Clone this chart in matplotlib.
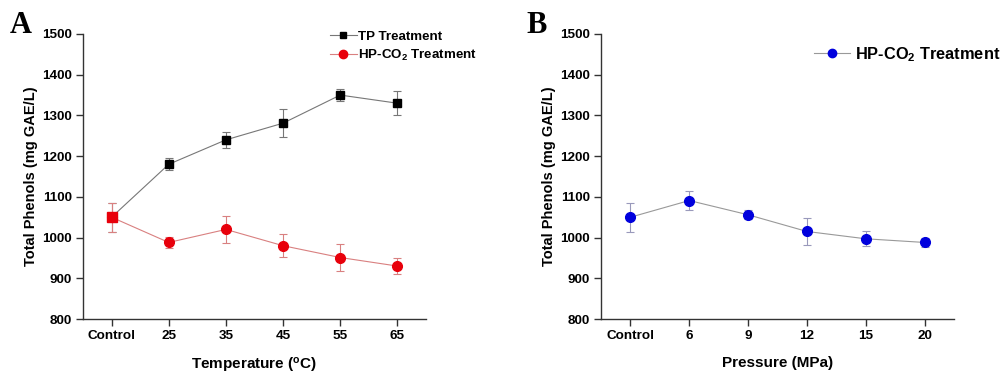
import matplotlib
matplotlib.use("Agg")
import matplotlib.pyplot as plt
from matplotlib.lines import Line2D

plt.rcParams["font.family"] = ["Liberation Sans", "DejaVu Sans"]
plt.rcParams["font.weight"] = "bold"
plt.rcParams["mathtext.fontset"] = "custom"
plt.rcParams["mathtext.rm"] = "Liberation Sans:bold"
plt.rcParams["mathtext.bf"] = "Liberation Sans:bold"
plt.rcParams["mathtext.default"] = "bf"

# panel A: temperature
temp_labels = ["Control", "25", "35", "45", "55", "65"]
tp_mean = [1050, 1180, 1240, 1281, 1350, 1330]
tp_err = [36, 15, 19, 34, 14, 30]
hp_temp_mean = [1050, 988, 1020, 980, 951, 930]
hp_temp_err = [36, 13, 33, 28, 34, 20]

# panel B: pressure
press_labels = ["Control", "6", "9", "12", "15", "20"]
hp_press_mean = [1050, 1091, 1056, 1015, 997, 988]
hp_press_err = [36, 24, 11, 33, 18, 10]

W, H = 1003, 374
fig = plt.figure(figsize=(W / 100, H / 100), dpi=100)
axA = fig.add_axes([83 / W, 55 / H, 343 / W, 285 / H])
axB = fig.add_axes([601 / W, 55 / H, 353 / W, 285 / H])


def style(ax, labels, xlabel):
    ax.set_xlim(-0.5, 5.5)
    ax.set_ylim(800, 1500)
    ax.set_yticks(range(800, 1501, 100))
    ax.set_xticks(range(len(labels)))
    ax.set_xticklabels(labels)
    for s in ["top", "right"]:
        ax.spines[s].set_visible(False)
    for s in ["left", "bottom"]:
        ax.spines[s].set_linewidth(1.0)
        ax.spines[s].set_color("#333333")
    ax.tick_params(direction="out", length=5, width=1, labelsize=9.7, pad=3, color="#333333")
    ax.set_xlabel(xlabel, fontsize=11, fontweight="bold", labelpad=10)
    ax.set_ylabel("Total Phenols (mg GAE/L)", fontsize=10.5, fontweight="bold", labelpad=3)


x = list(range(len(temp_labels)))
axA.errorbar(x, tp_mean, yerr=tp_err, color="#777777", lw=0.8, elinewidth=0.8,
             capsize=3, capthick=0.8, marker="s", ms=6, mfc="black", mec="black", zorder=3)
axA.errorbar(x, hp_temp_mean, yerr=hp_temp_err, color="#D98080", lw=0.8, elinewidth=0.8,
             capsize=3, capthick=0.8, marker="o", ms=7, mfc="#E8000B", mec="#E8000B", zorder=4)
axA.plot(x[0], hp_temp_mean[0], marker="s", ms=7, color="#E8000B", zorder=5, ls="none")
style(axA, temp_labels, "Temperature ($^{o}$C)")
hA = [Line2D([], [], color="#777777", lw=0.8, marker="s", ms=5, mfc="black", mec="black"),
      Line2D([], [], color="#D98080", lw=0.8, marker="o", ms=6, mfc="#E8000B", mec="#E8000B")]
axA.legend(hA, ["TP Treatment", "HP-CO$_2$ Treatment"], loc="upper left",
           bbox_to_anchor=(0.705, 1.03), frameon=False, fontsize=9.6,
           handlelength=2.0, handletextpad=0.1, labelspacing=0.35, borderaxespad=0)

xb = list(range(len(press_labels)))
axB.errorbar(xb, hp_press_mean, yerr=hp_press_err, color="#999999", lw=0.8, elinewidth=0.8,
             ecolor="#9999BB", capsize=3, capthick=0.8, marker="o", ms=7,
             mfc="#0000DD", mec="#0000DD", zorder=3)
style(axB, press_labels, "Pressure (MPa)")
hB = [Line2D([], [], color="#999999", lw=0.8, marker="o", ms=6, mfc="#0000DD", mec="#0000DD")]
axB.legend(hB, ["HP-CO$_2$ Treatment"], loc="upper left", bbox_to_anchor=(0.585, 0.985),
           frameon=False, fontsize=11.8, handlelength=2.2, handletextpad=0.3, borderaxespad=0)

fig.text(10 / W, 1 - 33 / H, "A", family="Liberation Serif", fontsize=22, fontweight="bold")
fig.text(526 / W, 1 - 33 / H, "B", family="Liberation Serif", fontsize=22, fontweight="bold")

fig.savefig("out.png", dpi=100)
